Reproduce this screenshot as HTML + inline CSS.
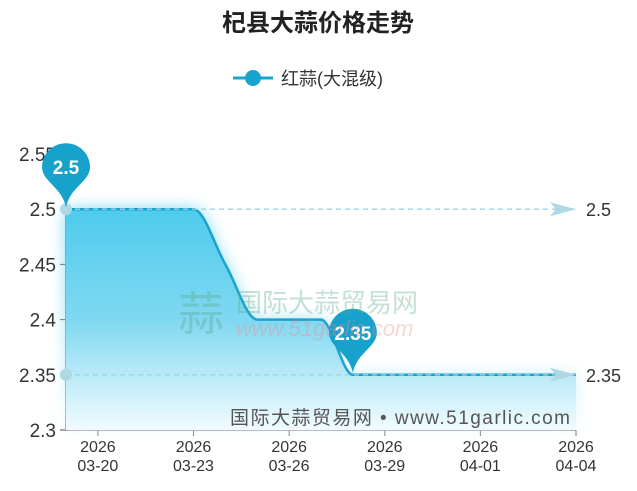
<!DOCTYPE html>
<html><head><meta charset="utf-8"><style>
body{margin:0;background:#fff;font-family:"Liberation Sans","Noto Sans CJK SC",sans-serif}
svg text{font-family:"Liberation Sans","Noto Sans CJK SC",sans-serif}
</style></head><body>
<svg id="c" width="637" height="486" xmlns="http://www.w3.org/2000/svg">
<defs>
<linearGradient id="ag" x1="0" y1="0" x2="0" y2="1">
<stop offset="0" stop-color="#4ecbec"/><stop offset="0.5" stop-color="#7fd8f1"/><stop offset="1" stop-color="#f2fbfe"/></linearGradient>
<filter id="bl" x="-20%" y="-20%" width="140%" height="140%"><feGaussianBlur stdDeviation="8"/></filter>
</defs>
<text x="318" y="31" text-anchor="middle" font-size="24" font-weight="bold" fill="#222">杞县大蒜价格走势</text>
<g>
<line x1="233" y1="78" x2="273" y2="78" stroke="#1aa3cf" stroke-width="3"/>
<circle cx="253" cy="78" r="8" fill="#1aa3cf"/>
<text x="281" y="85" font-size="18" fill="#333">红蒜(大混级)</text></g>
<g id="grid"></g>
<g id="series"></g>
<g id="marks"></g>
<text x="230" y="424" font-size="19" fill="#555" textLength="340" lengthAdjust="spacing">国际大蒜贸易网 • www.51garlic.com</text>
<g opacity="0.35">
<text x="178" y="330" font-size="46" fill="#5aa883">蒜</text>
<text x="236" y="312" font-size="26" fill="#5aa883">国际大蒜贸易网</text>
<text x="236" y="336" font-size="22" font-style="italic" fill="#e88">www.51garlic.com</text></g>
</svg>
<script>
const categories=['03-19','03-20','03-21','03-22','03-23','03-24','03-25','03-26','03-27','03-28','03-29','03-30','03-31','04-01','04-02','04-03','04-04'];
const values=[2.5,2.5,2.5,2.5,2.5,2.45,2.4,2.4,2.4,2.35,2.35,2.35,2.35,2.35,2.35,2.35,2.35];
const yTicks=[2.3,2.35,2.4,2.45,2.5,2.55];
const xLabelIdx=[1,4,7,10,13,16];
const maxLine=2.5, minLine=2.35;
const NS='http://www.w3.org/2000/svg';
const X0=66,X1=576,Y0=430,Y1=154;
const x=i=>X0+(X1-X0)*i/(categories.length-1);
const y=v=>Y0-(v-2.3)/(2.55-2.3)*(Y0-Y1);
function mk(t,a,p){const e=document.createElementNS(NS,t);for(const k in a)e.setAttribute(k,a[k]);(p||document.getElementById('c')).appendChild(e);return e;}
const grid=document.getElementById('grid');
yTicks.forEach(v=>{
const t=mk('text',{x:56,y:y(v)+7,'text-anchor':'end','font-size':19,fill:'#333'},grid);t.textContent=v;


mk('line',{x1:60,x2:66,y1:y(v),y2:y(v),stroke:'#666'},grid);});
const ax=mk('line',{x1:X0,x2:X0,y1:Y1-4,y2:Y0,stroke:'#777','stroke-width':1.5},grid);


const xa=mk('line',{x1:X0-6,x2:X1,y1:Y0,y2:Y0,stroke:'#777','stroke-width':1.5},grid);


xLabelIdx.forEach(i=>{
mk('line',{x1:x(i),x2:x(i),y1:Y0,y2:Y0+6,stroke:'#666'},grid);
const t=mk('text',{x:x(i),y:452,'text-anchor':'middle','font-size':16,fill:'#333'},grid);


const a=mk('tspan',{x:x(i),dy:0},t);a.textContent='2026';
const b=mk('tspan',{x:x(i),dy:19},t);b.textContent=categories[i];});
const P=values.map((v,i)=>[x(i),y(v)]);const n=P.length;
const d=[],m=[];for(let i=0;i<n-1;i++)d.push((P[i+1][1]-P[i][1])/(P[i+1][0]-P[i][0]));
for(let i=0;i<n;i++){if(i==0)m.push(d[0]);else if(i==n-1)m.push(d[n-2]);else m.push(d[i-1]*d[i]<=0?0:(d[i-1]+d[i])/2);}
let path='M'+P[0][0]+','+P[0][1];
for(let i=0;i<n-1;i++){const h=(P[i+1][0]-P[i][0])/3;path+=` C${P[i][0]+h},${P[i][1]+m[i]*h} ${P[i+1][0]-h},${P[i+1][1]-m[i+1]*h} ${P[i+1][0]},${P[i+1][1]}`;}
const s=document.getElementById('series');
const glow=mk('path',{d:path+` L${X1},${Y0} L${X0},${Y0}Z`,fill:'url(#ag)',filter:'url(#bl)',opacity:0.8},s);


const area=mk('path',{d:path+` L${X1},${Y0} L${X0},${Y0}Z`,fill:'url(#ag)'},s);


const ln=mk('path',{d:path,fill:'none',stroke:'#1aa3cf','stroke-width':2.5},s);


const mg=document.getElementById('marks');
[[maxLine,'max'],[minLine,'min']].forEach(([v,nm])=>{
const l=mk('line',{x1:X0,x2:X1,y1:y(v),y2:y(v),stroke:'#9fd3e3','stroke-dasharray':'5,4','stroke-width':1.3},mg);


mk('circle',{cx:X0,cy:y(v),r:6,fill:'#aed8e4'},mg);
mk('path',{d:`M${X1-26},${y(v)-7} L${X1},${y(v)} L${X1-26},${y(v)+7} L${X1-20},${y(v)}Z`,fill:'#aed8e4'},mg);
const t=mk('text',{x:X1+10,y:y(v)+7,'font-size':18,fill:'#333'},mg);t.textContent=v;

});
function pin(i,label,nm){const px=x(i),py=y(values[i])-2;const r=24,cy=py-40;
const g=mk('g',{},mg);


mk('path',{d:`M${px},${py} C${px-4},${cy+20} ${px-r},${cy+14} ${px-r},${cy} A${r},${r} 0 1 1 ${px+r},${cy} C${px+r},${cy+14} ${px+4},${cy+20} ${px},${py}Z`,fill:'#17a2cb'},g);
const t=mk('text',{x:px,y:cy+7,'text-anchor':'middle','font-size':19,'font-weight':'bold',fill:'#fff'},g);t.textContent=label;}
const maxI=values.indexOf(Math.max(...values)),minI=values.indexOf(Math.min(...values));
pin(maxI,String(values[maxI]),'max');pin(minI,String(values[minI]),'min');
</script>
</body></html>
